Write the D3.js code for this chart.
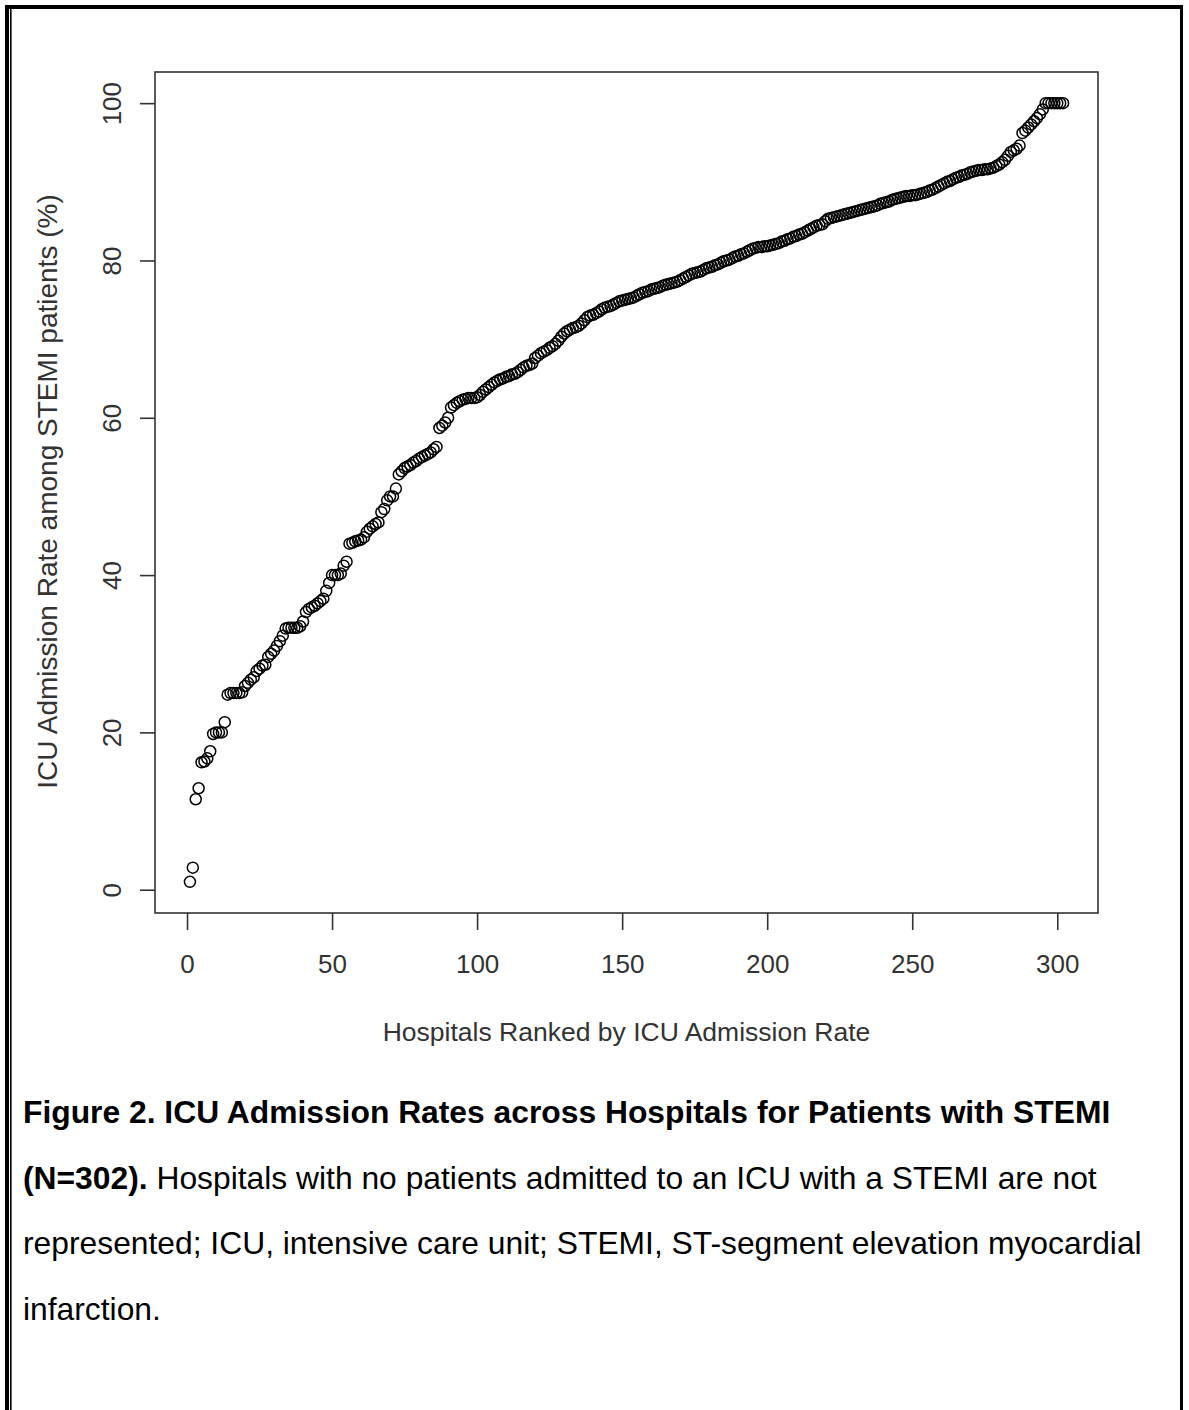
<!DOCTYPE html>
<html>
<head>
<meta charset="utf-8">
<script src="https://cdn.jsdelivr.net/npm/d3@7"></script>
<style>
  body { margin: 0; background: #fff; }
  svg { display: block; font-family: "Liberation Sans", Arial, sans-serif; }
</style>
</head>
<body>
<div id="wrapper"></div>
<script>
// ICU admission rate (%) per hospital, sorted ascending
const rates = [
  1.0, 2.8, 11.5, 12.9, 16.2, 16.3, 16.7, 17.6, 19.8, 20.0,
  20.0, 20.0, 21.3, 24.8, 25.0, 25.0, 25.0, 25.0, 25.1, 25.9,
  26.3, 26.7, 27.0, 27.8, 28.1, 28.5, 28.6, 29.6, 30.0, 30.4,
  31.0, 31.6, 32.3, 33.2, 33.3, 33.3, 33.3, 33.3, 33.5, 34.1,
  35.3, 35.7, 35.9, 36.1, 36.4, 36.7, 37.0, 38.0, 39.0, 40.0,
  40.0, 40.0, 40.2, 41.2, 41.7, 44.0, 44.1, 44.3, 44.4, 44.5,
  44.8, 45.5, 45.9, 46.2, 46.5, 46.7, 48.0, 48.4, 49.5, 50.0,
  50.0, 51.0, 52.8, 53.2, 53.6, 53.8, 54.0, 54.3, 54.5, 54.8,
  55.0, 55.2, 55.4, 55.6, 56.0, 56.3, 58.7, 59.0, 59.4, 60.0,
  61.3, 61.6, 61.9, 62.1, 62.3, 62.4, 62.5, 62.5, 62.5, 62.6,
  62.9, 63.3, 63.6, 63.9, 64.2, 64.5, 64.7, 64.9, 65.0, 65.2,
  65.3, 65.5, 65.6, 65.8, 66.1, 66.4, 66.6, 66.7, 66.9, 67.6,
  67.9, 68.2, 68.4, 68.6, 68.9, 69.1, 69.4, 69.8, 70.3, 70.7,
  71.0, 71.2, 71.4, 71.5, 71.7, 72.0, 72.4, 72.8, 73.0, 73.1,
  73.3, 73.5, 73.8, 74.0, 74.1, 74.2, 74.4, 74.6, 74.8, 74.9,
  75.0, 75.1, 75.2, 75.3, 75.5, 75.7, 75.9, 76.0, 76.1, 76.3,
  76.4, 76.5, 76.6, 76.8, 76.9, 77.0, 77.1, 77.2, 77.3, 77.5,
  77.7, 77.9, 78.1, 78.3, 78.4, 78.5, 78.6, 78.8, 79.0, 79.1,
  79.2, 79.4, 79.5, 79.7, 79.9, 80.0, 80.1, 80.3, 80.5, 80.6,
  80.8, 80.9, 81.1, 81.3, 81.5, 81.6, 81.7, 81.7, 81.8, 81.8,
  81.9, 82.0, 82.1, 82.2, 82.4, 82.5, 82.7, 82.8, 83.0, 83.1,
  83.3, 83.4, 83.6, 83.8, 84.0, 84.2, 84.4, 84.5, 84.6, 85.0,
  85.3, 85.4, 85.5, 85.6, 85.7, 85.8, 85.9, 86.0, 86.1, 86.2,
  86.3, 86.4, 86.5, 86.6, 86.7, 86.8, 86.9, 87.0, 87.2, 87.3,
  87.4, 87.5, 87.7, 87.8, 87.9, 88.0, 88.1, 88.2, 88.2, 88.3,
  88.3, 88.4, 88.5, 88.6, 88.7, 88.9, 89.0, 89.2, 89.4, 89.6,
  89.8, 90.0, 90.1, 90.3, 90.5, 90.6, 90.8, 90.9, 91.0, 91.2,
  91.3, 91.4, 91.5, 91.5, 91.6, 91.6, 91.7, 91.8, 92.0, 92.2,
  92.5, 92.8, 93.3, 93.8, 94.0, 94.2, 94.6, 96.2, 96.5, 96.9,
  97.3, 97.7, 98.1, 98.6, 99.2, 100, 100, 100, 100, 100,
  100, 100
]

const xTicks = [0, 50, 100, 150, 200, 250, 300]
const yTicks = [0, 20, 40, 60, 80, 100]

const xLabel = "Hospitals Ranked by ICU Admission Rate"
const yLabel = "ICU Admission Rate among STEMI patients (%)"

const captionLines = [
  [{ t: "Figure 2. ICU Admission Rates across Hospitals for Patients with STEMI", b: true }],
  [{ t: "(N=302).", b: true }, { t: " Hospitals with no patients admitted to an ICU with a STEMI are not", b: false }],
  [{ t: "represented; ICU, intensive care unit; STEMI, ST-segment elevation myocardial", b: false }],
  [{ t: "infarction.", b: false }]
]

const data = rates.map((v, i) => ({ rank: i + 1, rate: v }))
const xAccessor = d => d.rank
const yAccessor = d => d.rate

const width = 1189
const height = 1410
const dimensions = {
  width, height,
  margin: { top: 72, right: 91, bottom: 497, left: 155 }
}
dimensions.boundedWidth = width - dimensions.margin.left - dimensions.margin.right
dimensions.boundedHeight = height - dimensions.margin.top - dimensions.margin.bottom

const svg = d3.select("#wrapper").append("svg")
    .attr("width", width)
    .attr("height", height)

svg.append("rect").attr("width", width).attr("height", height).attr("fill", "#fff")

// page frame (double rule on the left)
const frame = svg.append("g").attr("fill", "#000")
frame.append("rect").attr("x", 5).attr("y", 5).attr("width", 1178).attr("height", 4)
frame.append("rect").attr("x", 5).attr("y", 5).attr("width", 4).attr("height", height)
frame.append("rect").attr("x", 10).attr("y", 9).attr("width", 1.6).attr("height", height)
frame.append("rect").attr("x", 1180).attr("y", 5).attr("width", 3).attr("height", height)

// R-style scales: data range padded by 4% on each side
const pad = ([a, b]) => [a - (b - a) * 0.04, b + (b - a) * 0.04]
const xScale = d3.scaleLinear()
    .domain(pad(d3.extent(data, xAccessor)))
    .range([0, dimensions.boundedWidth])
const yScale = d3.scaleLinear()
    .domain(pad(d3.extent(data, yAccessor)))
    .range([dimensions.boundedHeight, 0])

const bounds = svg.append("g")
    .attr("transform", `translate(${dimensions.margin.left},${dimensions.margin.top})`)

const ink = "#333"
const axisFont = "'Liberation Sans', Arial, sans-serif"

bounds.append("g")
  .selectAll("circle")
  .data(data)
  .join("circle")
    .attr("cx", d => xScale(xAccessor(d)))
    .attr("cy", d => yScale(yAccessor(d)))
    .attr("r", 5.5)
    .attr("fill", "none")
    .attr("stroke", "#000")
    .attr("stroke-width", 1.5)

bounds.append("rect")
    .attr("width", dimensions.boundedWidth)
    .attr("height", dimensions.boundedHeight)
    .attr("fill", "none")
    .attr("stroke", ink)
    .attr("stroke-width", 1.6)

const xAxis = bounds.append("g")
    .attr("transform", `translate(0,${dimensions.boundedHeight})`)
    .call(d3.axisBottom(xScale).tickValues(xTicks).tickSize(17).tickPadding(25).tickSizeOuter(0))
xAxis.select(".domain").remove()
xAxis.selectAll("line").attr("stroke", ink).attr("stroke-width", 1.6)
xAxis.selectAll("text")
    .attr("fill", ink)
    .style("font-size", "26px")
    .style("font-family", axisFont)

const yAxis = bounds.append("g")
    .call(d3.axisLeft(yScale).tickValues(yTicks).tickSize(15).tickPadding(0).tickSizeOuter(0))
yAxis.select(".domain").remove()
yAxis.selectAll("line").attr("stroke", ink).attr("stroke-width", 1.6)
yAxis.selectAll("text")
    .attr("fill", ink)
    .attr("x", null).attr("dy", null)
    .attr("text-anchor", "middle")
    .attr("dominant-baseline", "central")
    .attr("transform", "translate(-43,0) rotate(-90)")
    .style("font-size", "26px")
    .style("font-family", axisFont)

svg.append("text")
    .attr("x", dimensions.margin.left + dimensions.boundedWidth / 2)
    .attr("y", 1041)
    .attr("text-anchor", "middle")
    .attr("fill", ink)
    .style("font-size", "26.5px")
    .text(xLabel)

svg.append("text")
    .attr("transform", `translate(57,${dimensions.margin.top + dimensions.boundedHeight / 2 - 1}) rotate(-90)`)
    .attr("text-anchor", "middle")
    .attr("fill", ink)
    .style("font-size", "28px")
    .text(yLabel)

// caption
const caption = svg.append("g")
captionLines.forEach((line, i) => {
  const t = caption.append("text")
      .attr("x", 23)
      .attr("y", 1123 + i * 65.5)
      .attr("fill", "#000")
      .style("font-size", "31.8px")
      .style("font-family", "Arial, 'Liberation Sans', sans-serif")
  line.forEach(seg => {
    t.append("tspan")
      .attr("font-weight", seg.b ? "bold" : "normal")
      .text(seg.t)
  })
})
</script>
</body>
</html>
